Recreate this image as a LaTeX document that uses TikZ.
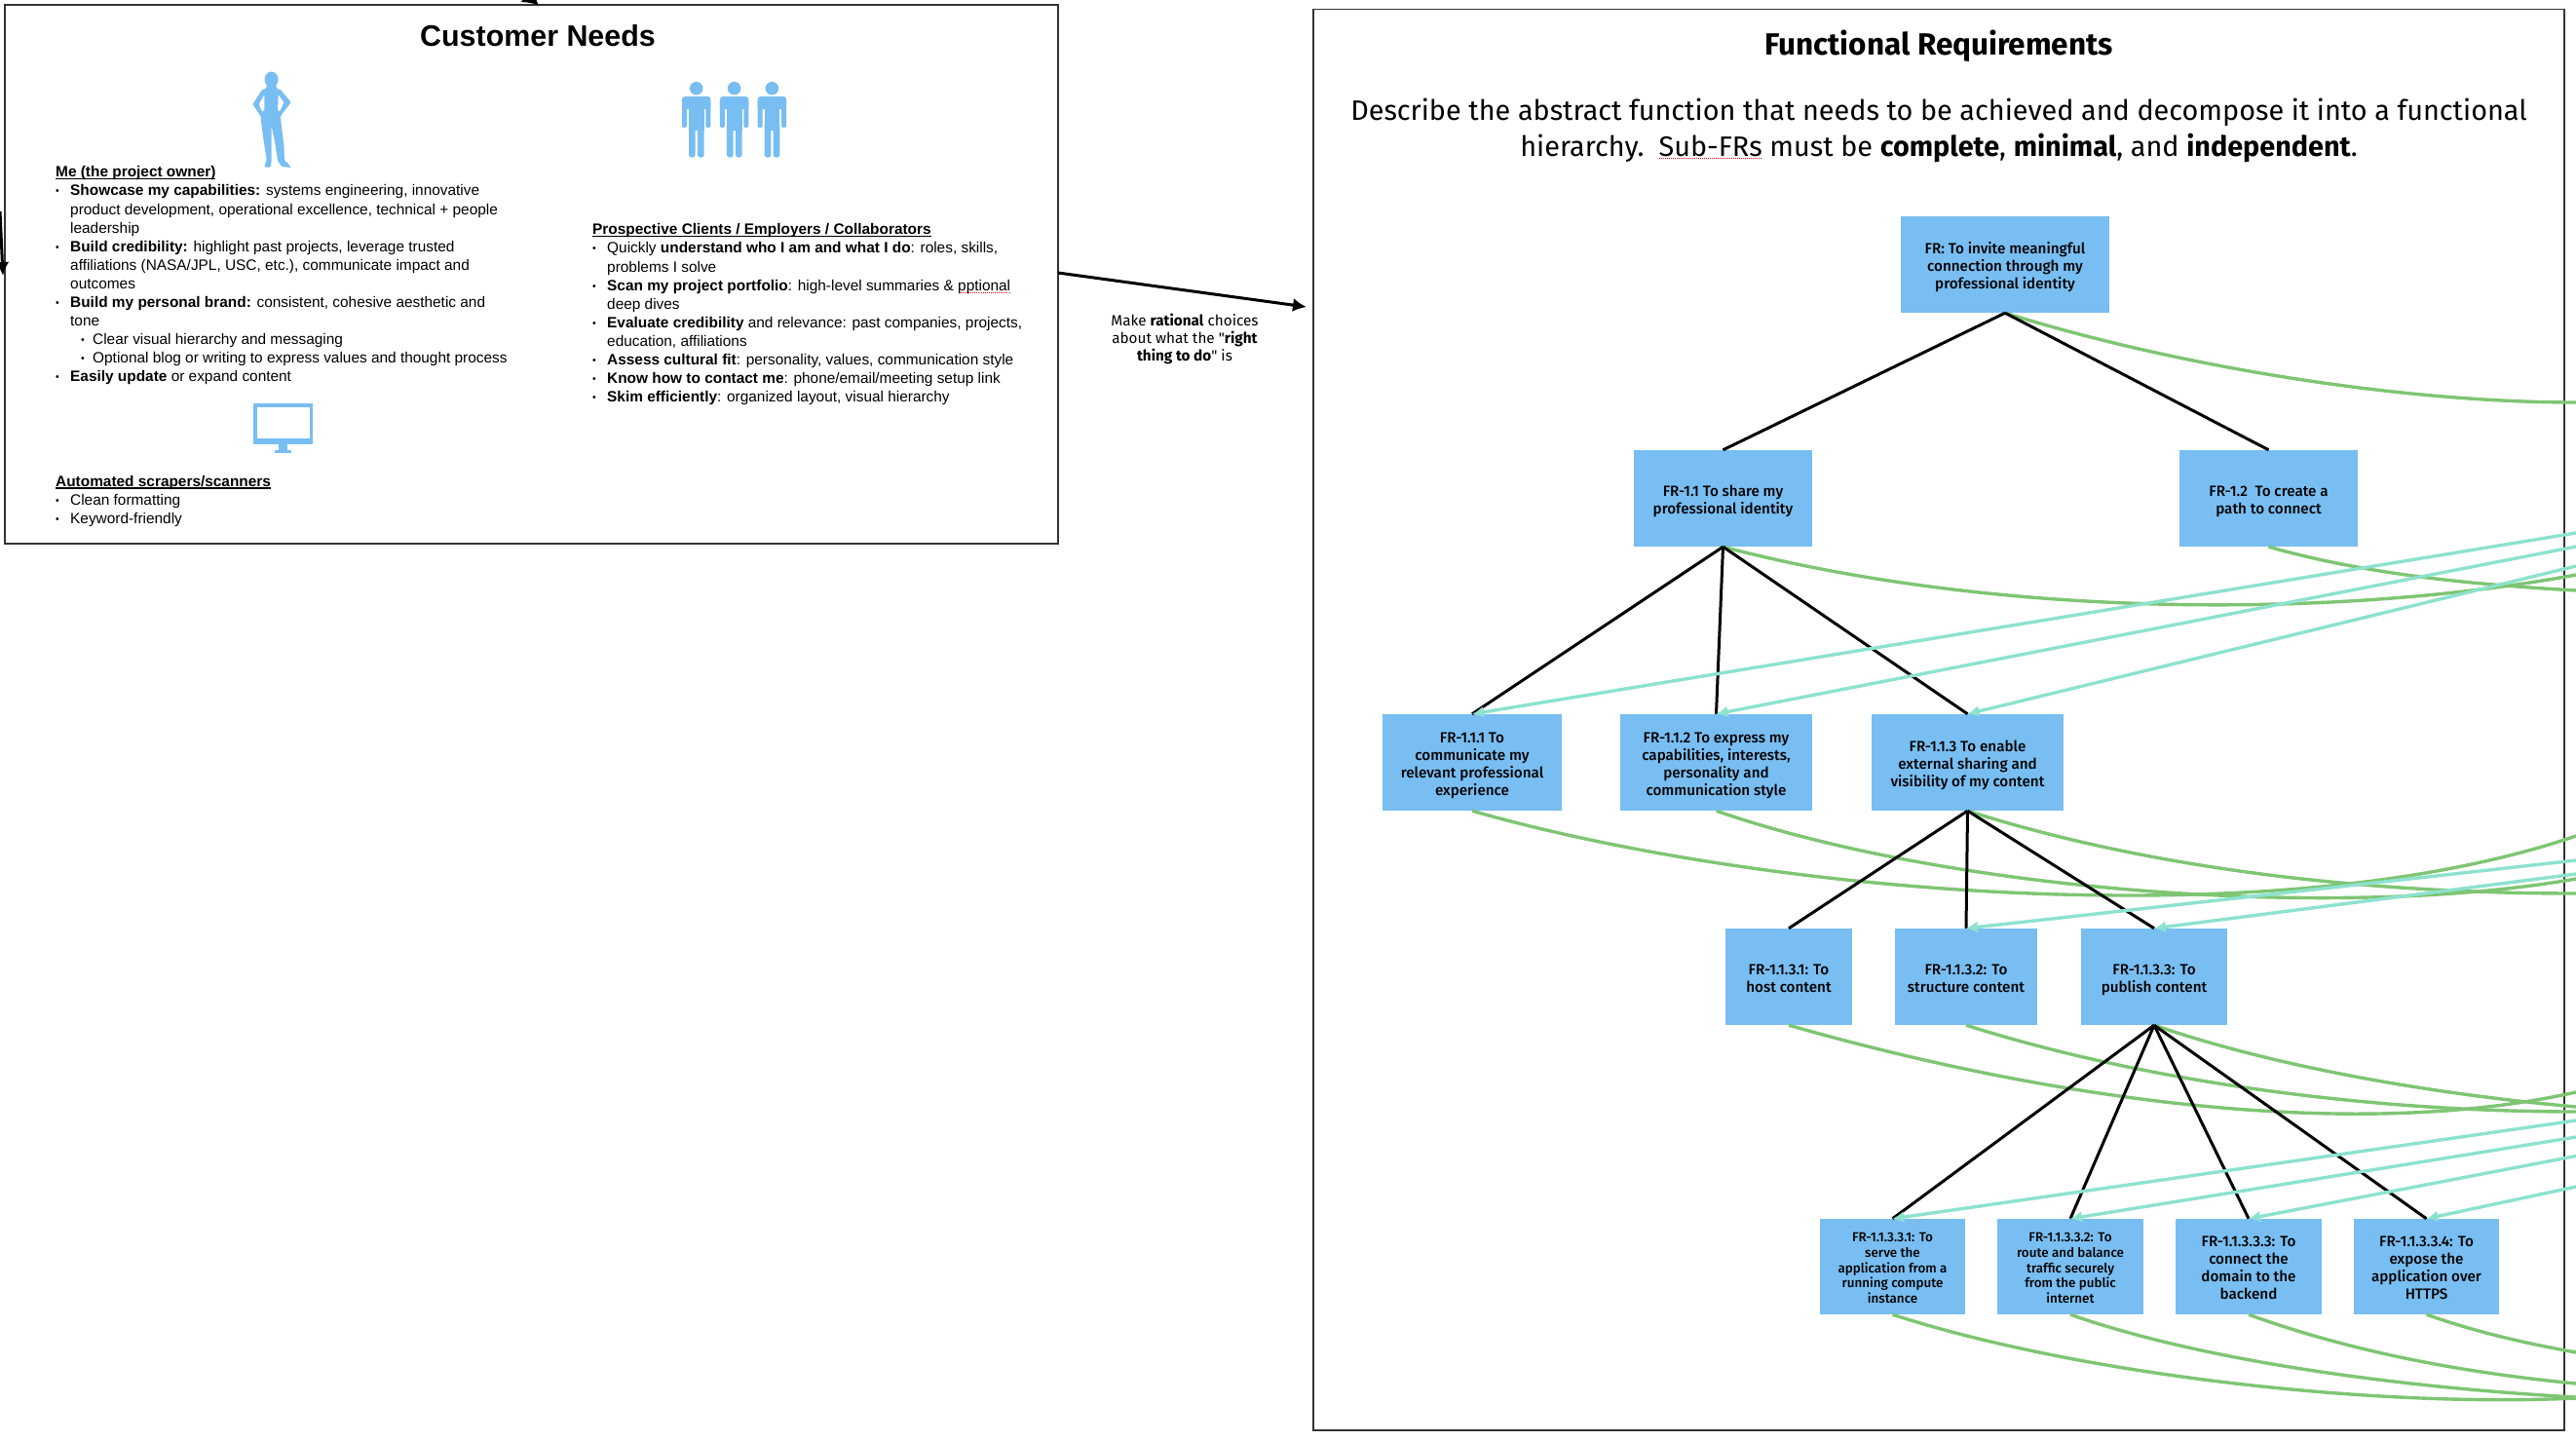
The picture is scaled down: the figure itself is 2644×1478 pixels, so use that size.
\documentclass[tikz,border=0pt]{standalone}
\usepackage{fontspec}
\usetikzlibrary{arrows.meta}
\setmainfont{Liberation Sans}
\newfontfamily\frfont{Fira Sans}[BoldFont={Fira Sans Medium}]
\newfontfamily\frtitlefont{Fira Sans}
\definecolor{nodeblue}{HTML}{78BEF2}
\definecolor{linkgreen}{HTML}{7FC574}
\definecolor{linkteal}{HTML}{8DE2CE}
\definecolor{frameink}{HTML}{333333}
\newcommand\bl{\makebox[15pt][l]{\raisebox{1pt}{\scalebox{0.68}{\textbullet}}}}
\newcommand\ind{\hspace*{15pt}}
\newcommand\subbl{\hspace*{26pt}\makebox[12pt][l]{\raisebox{1pt}{\scalebox{0.68}{\textbullet}}}}
\newcommand\headline[1]{\setbox0=\hbox{\textbf{#1}}\leavevmode\rlap{\rule[-2.2pt]{\wd0}{1.1pt}}\box0 }
\newcommand\spellmark[1]{\setbox0=\hbox{#1}\leavevmode\rlap{\raisebox{-2.5pt}{\hbox to\wd0{\color{red}\xleaders\hbox to 2pt{\hss\rule{1pt}{1pt}\hss}\hfill}}}\box0 }
\newcommand\frt[1]{\raisebox{-3pt}[\height][\depth]{\begin{tabular}{@{}c@{}}#1\end{tabular}}}
\tikzset{
  frame/.style={draw=frameink,line width=1.6pt,fill=white},
  frbox/.style={fill=nodeblue,inner sep=0pt,text=black,font=\frfont\bfseries\fontsize{15.2}{18}\selectfont},
  frsmall/.style={frbox,font=\frfont\bfseries\fontsize{13.4}{15.7}\selectfont},
  tree/.style={black,line width=3pt},
  sat/.style={linkgreen,line width=3.4pt},
  map/.style={linkteal,line width=3.4pt,-{Latex[length=12pt,width=12pt]}},
  flow/.style={black,line width=3pt,-{Latex[length=14pt,width=14pt]}},
  copy/.style={inner sep=0pt,anchor=north west,align=left,font=\fontsize{15.4}{19.1}\selectfont},
  icon/.style={fill=nodeblue,draw=none},
}
\begin{document}
\begin{tikzpicture}[x=1pt,y=-1pt]
\useasboundingbox (0,0) rectangle (2644,1478);
\clip (0,0) rectangle (2644,1478);
% frames
\node[frame,minimum width=1081pt,minimum height=553pt,inner sep=0pt,anchor=north west] (needs) at (4,4.4) {};
\node[frame,minimum width=1284pt,minimum height=1458.5pt,inner sep=0pt,anchor=north west] (reqs) at (1347,8.5) {};
% titles
\node[inner sep=0pt,font=\bfseries\fontsize{30.4}{34}\selectfont] (needstitle) at (552,36.5) {Customer Needs};
\node[inner sep=0pt,font=\frtitlefont\bfseries\fontsize{31.5}{34}\selectfont] (reqstitle) at (1990,47) {Functional Requirements};
\node[inner sep=0pt,align=center,font=\frfont\fontsize{28.8}{37}\selectfont] (reqsintro) at (1990,133.5)
 {Describe the abstract function that needs to be achieved and decompose it into a functional\\
  hierarchy.\ \ \spellmark{Sub-FRs} must be {\frtitlefont\bfseries complete}, {\frtitlefont\bfseries minimal}, and {\frtitlefont\bfseries independent}.};
% customer needs text
\node[copy] (owner) at (57,170.5) {\headline{Me (the project owner)}\\
\bl\textbf{Showcase my capabilities:} systems engineering, innovative\\
\ind product development, operational excellence, technical + people\\
\ind leadership\\
\bl\textbf{Build credibility:} highlight past projects, leverage trusted\\
\ind affiliations (NASA/JPL, USC, etc.), communicate impact and\\
\ind outcomes\\
\bl\textbf{Build my personal brand:} consistent, cohesive aesthetic and\\
\ind tone\\
\subbl Clear visual hierarchy and messaging\\
\subbl Optional blog or writing to express values and thought process\\
\bl\textbf{Easily update} or expand content};
\node[copy] (clients) at (608,229.5) {\headline{Prospective Clients / Employers / Collaborators}\\
\bl Quickly \textbf{understand who I am and what I do}: roles, skills,\\
\ind problems I solve\\
\bl\textbf{Scan my project portfolio}: high-level summaries \& \spellmark{pptional}\\
\ind deep dives\\
\bl\textbf{Evaluate credibility} and relevance: past companies, projects,\\
\ind education, affiliations\\
\bl\textbf{Assess cultural fit}: personality, values, communication style\\
\bl\textbf{Know how to contact me}: phone/email/meeting setup link\\
\bl\textbf{Skim efficiently}: organized layout, visual hierarchy};
\node[copy] (scrapers) at (57,488) {\headline{Automated scrapers/scanners}\\
\bl Clean formatting\\
\bl Keyword-friendly};
\node[inner sep=0pt,align=center,font=\frtitlefont\fontsize{15.3}{18}\selectfont] (rational) at (1216,348)
 {Make \textbf{rational} choices\\about what the "\textbf{right}\\\textbf{thing to do}" is};
% icons
\fill[icon] (278.6,81.5) ellipse[x radius=7pt,y radius=8pt];
\fill[icon,even odd rule,rounded corners=1pt]
  (274,86) -- (273,91) -- (269,92) -- (259.4,107) -- (268,120) -- (268,125) -- (270,140) -- (273.7,164) -- (271.4,171) -- (274,172) -- (278,171) -- (278.6,165) -- (278.6,129) -- (282,145) -- (285,165) -- (289,171) -- (298.7,172) -- (295,167) -- (292,165) -- (291.5,150) -- (288,122) -- (288,119) -- (298.7,105) -- (288,92) -- (284,91) -- (283,86) -- cycle
  (265.6,107) -- (271.4,97) -- (271.4,113) -- (269,115) -- cycle
  (291.5,105) -- (285.7,97) -- (285,113) -- (287,115) -- cycle;
\foreach \mx in {714.7,753.6,792.4}{
  \begin{scope}[shift={(\mx,0)}]
    \fill[icon] (0,90.7) circle[radius=6.8pt];
    \fill[icon,rounded corners=3pt] (-14.7,99) rectangle (14.7,112);
    \fill[icon,rounded corners=2pt] (-14.7,103) rectangle (-9.7,131);
    \fill[icon,rounded corners=2pt] (9.7,103) rectangle (14.7,131);
    \fill[icon] (-7.7,100) rectangle (8,134);
    \fill[icon,rounded corners=3pt] (-7.7,125) rectangle (-1,161.7);
    \fill[icon,rounded corners=3pt] (1.3,125) rectangle (8,161.7);
  \end{scope}
}
\fill[icon] (260,414) rectangle (321,456);
\fill[white] (264,418) rectangle (318,449.5);
\fill[icon] (286,456) rectangle (295,463);
\fill[icon] (282,461.5) rectangle (299,465);
% requirement boxes
\node[frbox,minimum width=214pt,minimum height=99pt] (fr) at (2058,271.5) {\frt{FR: To invite meaningful\\connection through my\\professional identity}};
\node[frbox,minimum width=183pt,minimum height=99pt] (fra) at (1768.5,511.5) {\frt{FR-1.1 To share my\\professional identity}};
\node[frbox,minimum width=183pt,minimum height=99pt] (frb) at (2328.5,511.5) {\frt{FR-1.2\ \ To create a\\path to connect}};
\node[frbox,minimum width=184pt,minimum height=99pt] (fraa) at (1511,782.5) {\frt{FR-1.1.1 To\\communicate my\\relevant professional\\experience}};
\node[frbox,minimum width=197pt,minimum height=99pt] (frab) at (1761.5,782.5) {\frt{FR-1.1.2 To express my\\capabilities, interests,\\personality and\\communication style}};
\node[frbox,minimum width=197pt,minimum height=99pt] (frac) at (2019.5,782.5) {\frt{FR-1.1.3 To enable\\external sharing and\\visibility of my content}};
\node[frbox,minimum width=130pt,minimum height=99pt] (fraca) at (1836,1002.5) {\frt{FR-1.1.3.1: To\\host content}};
\node[frbox,minimum width=146pt,minimum height=99pt] (fracb) at (2018,1002.5) {\frt{FR-1.1.3.2: To\\structure content}};
\node[frbox,minimum width=150pt,minimum height=99pt] (fracc) at (2211,1002.5) {\frt{FR-1.1.3.3: To\\publish content}};
\node[frsmall,minimum width=149pt,minimum height=98pt] (frcca) at (1942.5,1300) {\frt{FR-1.1.3.3.1: To\\serve the\\application from a\\running compute\\instance}};
\node[frsmall,minimum width=150pt,minimum height=98pt] (frccb) at (2125,1300) {\frt{FR-1.1.3.3.2: To\\route and balance\\traffic securely\\from the public\\internet}};
\node[frbox,minimum width=150pt,minimum height=98pt] (frccc) at (2308,1300) {\frt{FR-1.1.3.3.3: To\\connect the\\domain to the\\backend}};
\node[frbox,minimum width=149pt,minimum height=98pt] (frccd) at (2490.5,1300) {\frt{FR-1.1.3.3.4: To\\expose the\\application over\\HTTPS}};
% free ends at the picture's right edge
\coordinate (g0) at (2644,413);
\coordinate (ga) at (2644,590);
\coordinate (gb) at (2644,606);
\coordinate (gaa) at (2644,858);
\coordinate (gab) at (2644,902);
\coordinate (gac) at (2644,917);
\coordinate (gca) at (2644,1121);
\coordinate (gcb) at (2644,1141);
\coordinate (gcc) at (2644,1136);
\coordinate (gda) at (2644,1435);
\coordinate (gdb) at (2644,1434);
\coordinate (gdc) at (2644,1420);
\coordinate (gdd) at (2644,1388);
\coordinate (taa) at (2644,547);
\coordinate (tab) at (2644,561);
\coordinate (tac) at (2644,581);
\coordinate (tcb) at (2644,883);
\coordinate (tcc) at (2644,897);
\coordinate (tda) at (2644,1150);
\coordinate (tdb) at (2644,1167);
\coordinate (tdc) at (2644,1186.5);
\coordinate (tdd) at (2644,1218);
\coordinate (topfrom) at (523,-21);
\coordinate (topto) at (553,5.5);
\coordinate (leftfrom) at (0,217);
\coordinate (leftto) at (3,283);
\coordinate (flowfrom) at (1086,280);
\coordinate (flowto) at (1341,315);
% green links
\draw[sat] (fr.south) .. controls (2230,375) and (2460,413) .. (g0);
\draw[sat] (fra.south) .. controls (2050,635) and (2400,635) .. (ga);
\draw[sat] (frb.south) .. controls (2430,590) and (2540,600) .. (gb);
\draw[sat] (fraa.south) .. controls (1800,915) and (2330,965) .. (gaa);
\draw[sat] (frab.south) .. controls (2000,915) and (2400,945) .. (gab);
\draw[sat] (frac.south) .. controls (2200,890) and (2420,917) .. (gac);
\draw[sat] (fraca.south) .. controls (2080,1122) and (2400,1175) .. (gca);
\draw[sat] (fracb.south) .. controls (2200,1110) and (2430,1141) .. (gcb);
\draw[sat] (fracc.south) .. controls (2350,1100) and (2520,1125) .. (gcc);
\draw[sat] (frcca.south) .. controls (2130,1410) and (2430,1445) .. (gda);
\draw[sat] (frccb.south) .. controls (2270,1400) and (2480,1425) .. (gdb);
\draw[sat] (frccc.south) .. controls (2420,1390) and (2540,1410) .. (gdc);
\draw[sat] (frccd.south) .. controls (2550,1370) and (2600,1380) .. (gdd);
% decomposition
\foreach \p/\c in {fr/fra,fr/frb,fra/fraa,fra/frab,fra/frac,frac/fraca,frac/fracb,frac/fracc,fracc/frcca,fracc/frccb,fracc/frccc,fracc/frccd}
  \draw[tree] (\p.south) -- (\c.north);
% mapping arrows
\draw[map] (taa) -- (fraa.north);
\draw[map] (tab) -- (frab.north);
\draw[map] (tac) -- (frac.north);
\draw[map] (tcb) -- (fracb.north);
\draw[map] (tcc) -- (fracc.north);
\draw[map] (tda) -- (frcca.north);
\draw[map] (tdb) -- (frccb.north);
\draw[map] (tdc) -- (frccc.north);
\draw[map] (tdd) -- (frccd.north);
% flow arrows
\draw[flow] (flowfrom) -- (flowto);
\draw[flow] (leftfrom) -- (leftto);
\draw[flow,-{Latex[length=16pt,width=20pt]}] (topfrom) -- (topto);
\end{tikzpicture}
\end{document}
